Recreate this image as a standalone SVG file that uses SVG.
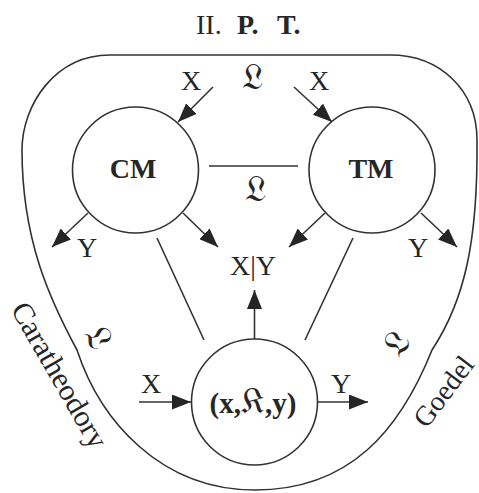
<svg xmlns="http://www.w3.org/2000/svg" width="479" height="493" viewBox="0 0 479 493">
<style>
.ln{fill:none;stroke:#333;stroke-width:1.6}
.t{font-family:"Liberation Serif","DejaVu Serif",serif;fill:#262626;font-size:28px}
.b{font-weight:bold}
.fr{font-family:"DejaVu Sans","DejaVu Serif","Noto Sans",serif;fill:#262626;font-size:36px}
</style>
<defs>
<marker id="ah" viewBox="0 0 19 15" refX="19" refY="7.5" markerWidth="19" markerHeight="15" markerUnits="userSpaceOnUse" orient="auto">
<path d="M0,0 L19,7.5 L0,15 z" fill="#262626"/>
</marker>
</defs>
<rect width="479" height="493" fill="#fff"/>
<text class="t" x="196" y="34" style="font-size:28px">II.<tspan class="b" x="237">P.</tspan><tspan class="b" x="277">T.</tspan></text>
<g id="ipt">
<path class="ln" d="M110,55 L390,55 C440,55 477,90 477,140 C478,240 465,300 432,350 C400,430 350,490 255,490 C160,490 100,420 77,350 C50,300 22,240 22,150 C22,105 55,55 110,55 Z"/>
<text class="fr" x="252" y="89" text-anchor="middle">𝔏</text>
<text class="fr" text-anchor="middle" transform="translate(88,343) rotate(60)">𝔏</text>
<text class="fr" text-anchor="middle" transform="translate(406,350) rotate(-55)">𝔏</text>
<text class="t" text-anchor="middle" transform="translate(51,380) rotate(60)" style="font-size:30px">Caratheodory</text>
<text class="t" text-anchor="middle" transform="translate(451,397) rotate(-53)">Goedel</text>
</g>
<g id="cm">
<circle class="ln" cx="135.5" cy="170" r="63"/>
<text class="t b" x="133" y="178" text-anchor="middle">CM</text>
</g>
<g id="tm">
<circle class="ln" cx="372" cy="170" r="63"/>
<text class="t b" x="371" y="178" text-anchor="middle">TM</text>
</g>
<g id="sys">
<circle class="ln" cx="254.5" cy="402" r="63"/>
<text class="t" x="253" y="413" text-anchor="middle" style="font-size:29px"><tspan class="b">(x,</tspan><tspan class="fr" style="font-size:36px">𝔎</tspan><tspan class="b">,y)</tspan></text>
</g>
<g id="xy">
<text class="t" x="253" y="275" text-anchor="middle">X|Y</text>
</g>
<g id="connectors">
<line class="ln" x1="213" y1="87" x2="178" y2="122" marker-end="url(#ah)"/>
<line class="ln" x1="294" y1="87" x2="332" y2="122" marker-end="url(#ah)"/>
<line class="ln" x1="209" y1="166" x2="298" y2="166"/>
<line class="ln" x1="88" y1="213" x2="52" y2="247" marker-end="url(#ah)"/>
<line class="ln" x1="183" y1="213" x2="218" y2="247" marker-end="url(#ah)"/>
<line class="ln" x1="325" y1="213" x2="289" y2="247" marker-end="url(#ah)"/>
<line class="ln" x1="421" y1="213" x2="457" y2="247" marker-end="url(#ah)"/>
<line class="ln" x1="157" y1="238" x2="204" y2="340"/>
<line class="ln" x1="353" y1="238" x2="305" y2="340"/>
<line class="ln" x1="254.5" y1="339" x2="254.5" y2="290" marker-end="url(#ah)"/>
<line class="ln" x1="139" y1="402" x2="191" y2="402" marker-end="url(#ah)"/>
<line class="ln" x1="318" y1="402" x2="368" y2="402" marker-end="url(#ah)"/>
<text class="t" x="191" y="90" text-anchor="middle">X</text>
<text class="t" x="319" y="90" text-anchor="middle">X</text>
<text class="fr" x="255" y="201" text-anchor="middle">𝔏</text>
<text class="t" x="87" y="257" text-anchor="middle">Y</text>
<text class="t" x="418" y="257" text-anchor="middle">Y</text>
<text class="t" x="151" y="393" text-anchor="middle">X</text>
<text class="t" x="341" y="393" text-anchor="middle">Y</text>
</g>
</svg>
